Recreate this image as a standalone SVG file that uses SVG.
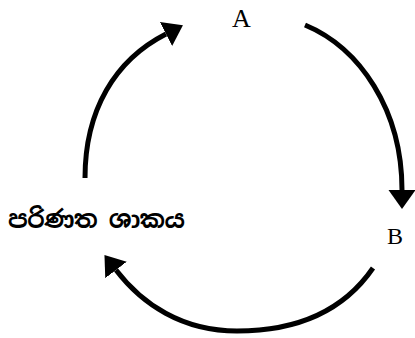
<svg xmlns="http://www.w3.org/2000/svg" width="415" height="338" viewBox="0 0 415 338">
<style>
.arc{fill:none;stroke:#000;stroke-width:5;stroke-linecap:butt}
.lbl{font-family:"Liberation Serif","Times New Roman",serif;fill:#000}
.si{font-family:"Noto Sans Sinhala","Iskoola Pota","Noto Sans",sans-serif;font-size:24px;font-weight:bold;fill:#000}
</style>
<defs>
<marker id="ah" markerUnits="userSpaceOnUse" markerWidth="20" markerHeight="30" viewBox="0 -14 20 28" refX="0" refY="0" orient="auto">
<path d="M0,-13.5 L19,0 L0,13.5 z" fill="#000"/>
</marker>
</defs>
<rect width="415" height="338" fill="#fff"/>
<g id="connectors">
<path class="arc" d="M85,178 C85,110 115,60 166,34" marker-end="url(#ah)"/>
<path class="arc" d="M305,25 C360,48 402,110 402,190" marker-end="url(#ah)"/>
<path class="arc" d="M373,268 C340,316 290,331 237,331 C182,331 142,304 116,270" marker-end="url(#ah)"/>
</g>
<g id="node-A"><text class="lbl" x="232" y="27" font-size="26">A</text></g>
<g id="node-B"><text class="lbl" x="387" y="244" font-size="24">B</text></g>
<g id="node-plant"><text class="si" x="8" y="228" textLength="177" lengthAdjust="spacing">පරිණත ශාකය</text></g>
</svg>
